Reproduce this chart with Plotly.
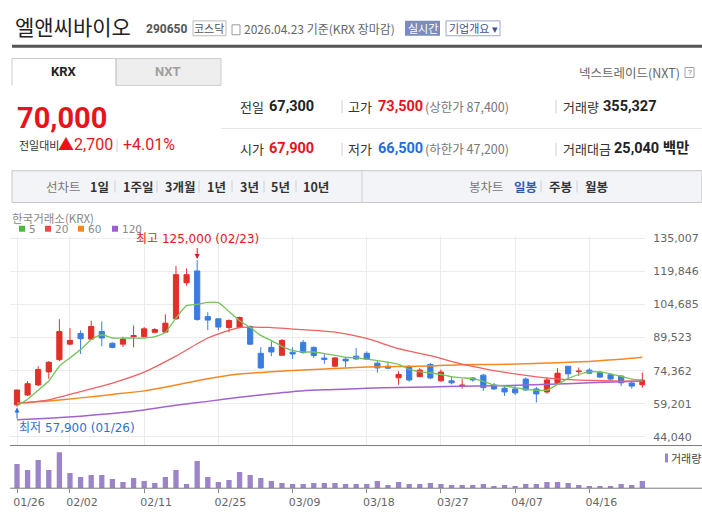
import plotly.graph_objects as go

W, H = 702, 515

# ---- data --------------------------------------------------------------
dates = [
    "2026-01-26", "2026-01-27", "2026-01-28", "2026-01-29", "2026-01-30",
    "2026-02-02", "2026-02-03", "2026-02-04", "2026-02-05", "2026-02-06",
    "2026-02-09", "2026-02-10", "2026-02-11", "2026-02-12", "2026-02-13",
    "2026-02-19", "2026-02-20", "2026-02-23", "2026-02-24", "2026-02-25",
    "2026-02-26", "2026-02-27", "2026-03-03", "2026-03-04", "2026-03-05",
    "2026-03-06", "2026-03-09", "2026-03-10", "2026-03-11", "2026-03-12",
    "2026-03-13", "2026-03-16", "2026-03-17", "2026-03-18", "2026-03-19",
    "2026-03-20", "2026-03-23", "2026-03-24", "2026-03-25", "2026-03-26",
    "2026-03-27", "2026-03-30", "2026-03-31", "2026-04-01", "2026-04-02",
    "2026-04-03", "2026-04-06", "2026-04-07", "2026-04-08", "2026-04-09",
    "2026-04-10", "2026-04-13", "2026-04-14", "2026-04-15", "2026-04-16",
    "2026-04-17", "2026-04-20", "2026-04-21", "2026-04-22", "2026-04-23",
]
opens = [58700, 63200, 67800, 73800, 79400, 86500, 91400, 88800, 92300, 86900,
         86500, 89900, 89900, 91900, 92000, 98100, 114600, 120000, 99100, 98100,
         94100, 94100, 94600, 82300, 85000, 81400, 82800, 87300, 85000, 80100,
         76400, 79600, 81000, 82300, 77800, 76400, 71100, 76300, 71600, 77200,
         69700, 69700, 67400, 71000, 72300, 67800, 66300, 66000, 70500, 66000,
         64600, 68600, 76400, 73900, 74600, 73700, 72500, 71900, 68700, 67900]
highs = [65600, 69600, 76400, 78700, 97900, 93800, 92800, 97300, 96900, 87300,
         89900, 95000, 94300, 93800, 100200, 122300, 121100, 125000, 101100, 98100,
         97800, 99100, 95000, 85100, 87800, 88800, 85100, 88400, 85500, 81900,
         80500, 80200, 84700, 83200, 78700, 77800, 74100, 76900, 75500, 77900,
         74900, 71600, 70500, 71400, 72900, 68800, 67300, 67300, 71300, 66900,
         71300, 75500, 76400, 75800, 75500, 74100, 73200, 72300, 69600, 73500]
lows = [57900, 62800, 67300, 70600, 78700, 86000, 82000, 88400, 85500, 84600,
        85200, 85000, 89600, 91500, 91500, 97600, 113200, 97200, 92900, 92800,
        91900, 93800, 86100, 75200, 81000, 81400, 79700, 82200, 80200, 77500,
        76000, 76000, 79300, 79300, 73400, 75100, 67900, 69300, 71600, 70500,
        69300, 68100, 66100, 69300, 65100, 65500, 62800, 63200, 65100, 59800,
        63800, 68200, 71100, 71900, 72800, 71000, 69900, 67300, 66100, 66500]
closes = [65500, 68400, 74900, 78200, 92300, 88200, 89000, 94600, 89300, 85000,
          88800, 90400, 93500, 93200, 96100, 118300, 118300, 97800, 97500, 94300,
          97300, 98700, 86500, 75600, 82900, 88200, 82000, 82600, 81300, 79500,
          80200, 78800, 79700, 79600, 75600, 75500, 72600, 70100, 74600, 71000,
          73700, 68800, 67700, 70100, 66600, 66000, 64600, 64200, 65500, 63700,
          70100, 73200, 72900, 74100, 73200, 71400, 70500, 68800, 67300, 70000]
volumes = [1179000, 888000, 1373000, 888000, 1760000, 743000, 549000, 646000, 646000, 452000,
           307000, 501000, 355000, 258000, 549000, 888000, 210000, 1324000, 549000, 307000,
           404000, 791000, 646000, 501000, 355000, 258000, 210000, 210000, 258000, 258000,
           258000, 210000, 210000, 210000, 355000, 162000, 307000, 210000, 210000, 258000,
           210000, 162000, 162000, 162000, 210000, 113000, 162000, 113000, 210000, 210000,
           307000, 307000, 258000, 162000, 113000, 113000, 113000, 210000, 162000, 355327]

ma5 = [58300, 61300, 65400, 69600, 76400, 80200, 84000, 88500, 90800, 89300,
       89300, 89300, 89300, 89900, 91900, 98400, 104100, 104700, 105600, 105500,
       101400, 97200, 94100, 90500, 88100, 85500, 83600, 82900, 82900, 82200,
       81400, 80500, 80200, 79600, 79000, 78200, 77200, 74900, 73800, 73400,
       72600, 71600, 71100, 70700, 69500, 67800, 67300, 66600, 65800, 65400,
       65400, 68100, 70800, 72600, 73800, 73700, 72900, 71700, 70500, 70100]
# longer averages, read every third session
ma_idx = [0, 3, 6, 9, 12, 15, 18, 21, 24, 27, 30, 33, 36, 39, 42, 45, 48, 51, 54, 57, 59]
ma20 = [59400, 61000, 64800, 68700, 73700, 81000, 89300, 94100, 94100, 93100, 92000,
        89100, 84400, 81200, 77300, 74400, 72200, 70600, 69900, 69600, 69600]
ma60 = [59500, 60500, 61900, 63500, 65100, 67800, 70700, 72800, 73900, 74700, 75400,
        76000, 76300, 76500, 77100, 77200, 77500, 78000, 78600, 79600, 80500]
ma120 = [51900, 52600, 53500, 54800, 56400, 58500, 60300, 62200, 63800, 65200, 65700,
         66300, 66700, 66900, 67200, 67400, 67800, 68200, 68800, 69300, 69600]

price_ticks = [44040, 59201, 74362, 89523, 104685, 119846, 135007]
date_ticks = ["2026-01-26", "2026-02-02", "2026-02-11", "2026-02-25", "2026-03-09",
              "2026-03-18", "2026-03-27", "2026-04-07", "2026-04-16"]

# quote panel
name = "엘앤씨바이오"
code = "290650"
market = "코스닥"
as_of = "2026.04.23 기준(KRX 장마감)"
last_price = 70000
change = 2700
change_pct = 4.01
prev_close = 67300
open_price = 67900
day_high = 73500
day_low = 66500
upper_limit = 87400
lower_limit = 47200
volume_today = 355327
turnover = 25040

UP = '#e0302a'
DOWN = '#3a7de0'
KR = 'Noto Sans CJK KR'
NUM = 'Roboto, Noto Sans CJK KR'
AX = 'DejaVu Sans, Noto Sans CJK KR'


def px(x):
    return x / W


def py(y):
    return 1 - y / H


fig = go.Figure()

fig.add_trace(go.Candlestick(
    x=dates, open=opens, high=highs, low=lows, close=closes,
    increasing=dict(line=dict(color=UP, width=1), fillcolor=UP),
    decreasing=dict(line=dict(color=DOWN, width=1), fillcolor=DOWN),
    whiskerwidth=0, xaxis='x', yaxis='y', hoverinfo='skip'
))

ma_x = [dates[i] for i in ma_idx]
for vals, xs, color, width in [(ma120, ma_x, '#a263cf', 1.5), (ma60, ma_x, '#f5891f', 1.5),
                               (ma20, ma_x, '#f06060', 1.3), (ma5, dates, '#74c45a', 1.3)]:
    fig.add_trace(go.Scatter(
        x=xs, y=vals, mode='lines', line=dict(color=color, width=width, shape='spline', smoothing=0.6),
        xaxis='x', yaxis='y', hoverinfo='skip'
    ))

fig.add_trace(go.Bar(
    x=dates, y=volumes, marker=dict(color='#9b84c7', line=dict(width=0)), width=0.5,
    xaxis='x2', yaxis='y2', hoverinfo='skip'
))

x_range = [-0.66, 59.25]
fig.update_layout(
    width=W, height=H, autosize=False,
    margin=dict(l=0, r=0, t=0, b=0),
    paper_bgcolor='white', plot_bgcolor='white',
    showlegend=False,
    xaxis=dict(
        domain=[px(10), px(645)], type='category', categoryorder='array', categoryarray=dates,
        range=x_range, tickvals=date_ticks, showticklabels=False, ticks='',
        showgrid=True, gridcolor='#ececec', gridwidth=1, zeroline=False, showline=False,
        rangeslider=dict(visible=False), anchor='y', fixedrange=True
    ),
    yaxis=dict(
        domain=[py(445), py(234)], range=[40079, 135915], side='right', anchor='x',
        tickvals=price_ticks, tickformat=',.0f', tickfont=dict(family=AX, size=11, color='#666'),
        ticks='outside', ticklen=5, tickcolor='rgba(0,0,0,0)',
        showgrid=True, gridcolor='#ececec', zeroline=False, showline=False, fixedrange=True
    ),
    xaxis2=dict(
        domain=[px(10), px(645)], type='category', categoryorder='array', categoryarray=dates,
        range=x_range, tickvals=date_ticks, ticktext=[d[5:7] + '/' + d[8:] for d in date_ticks],
        ticks='outside', ticklen=4, tickcolor='#888', ticklabelshift=12,
        tickfont=dict(family=AX, size=11, color='#666'),
        showgrid=False, zeroline=False, showline=False, anchor='y2', fixedrange=True
    ),
    yaxis2=dict(domain=[py(488), py(450)], range=[0, 1841000], visible=False, anchor='x2', fixedrange=True),
)

shapes = []


def rect(x0, y0, x1, y1, fill=None, line=None, lw=1):
    shapes.append(dict(type='rect', xref='paper', yref='paper', x0=px(x0), x1=px(x1), y0=py(y1), y1=py(y0),
                       fillcolor=fill or 'rgba(0,0,0,0)', line=dict(color=line or 'rgba(0,0,0,0)', width=lw),
                       layer='below'))


def hline(x0, x1, y, color, lw=1):
    shapes.append(dict(type='line', xref='paper', yref='paper', x0=px(x0), x1=px(x1), y0=py(y), y1=py(y),
                       line=dict(color=color, width=lw)))


def vline(x, y0, y1, color, lw=1):
    shapes.append(dict(type='line', xref='paper', yref='paper', x0=px(x), x1=px(x), y0=py(y0), y1=py(y1),
                       line=dict(color=color, width=lw)))


# header boxes
rect(193, 17, 226, 32, line='#bbbbbb')
rect(232, 21, 240, 31, line='#9a9a9a')
rect(405, 17, 440, 32, fill='#7b8cba')
rect(446, 17, 500, 32, line='#9ea7c6')
hline(12, 702, 42.5, '#555555', 3)
# exchange tabs
rect(116, 55, 221, 82, fill='#eeeeee', line='#cccccc')
shapes.append(dict(type='path', xref='paper', yref='paper',
                   path=f'M {px(12)},{py(82)} L {px(12)},{py(55)} L {px(116)},{py(55)} L {px(116)},{py(82)}',
                   line=dict(color='#cccccc', width=1)))
rect(685, 64, 694, 74, line='#a0a0a0')
# quote grid
hline(221, 702, 125.5, '#e6e6e6')
for xs in (342, 556):
    vline(xs, 97, 110, '#d0d0d0')
    vline(xs, 140, 153, '#d0d0d0')
vline(117, 136, 149, '#d0d0d0')
# period toolbar
rect(12, 168, 702, 200, fill='#f3f4f7', line='#c6c6c6')
vline(362, 168, 200, '#d0d0d0')
for xs in (115, 157, 199, 232, 264, 296, 541, 577):
    vline(xs, 178, 190, '#d0d0d0')
# chart legend squares
for x0, c in [(19, '#4cb840'), (45, '#f04848'), (78, '#f5891f'), (112, '#9d5fcd')]:
    rect(x0, 223.5, x0 + 6, 229.5, fill=c)
rect(665, 453, 668, 462, fill='#9b84c7')
# pane borders
hline(10, 702, 445, '#7a7a7a')
hline(10, 702, 488, '#7a7a7a')

ann = []


def txt(text, x, y, size=12, color='#333', bold=False, family=KR, xanchor='left'):
    ann.append(dict(text=f'<b>{text}</b>' if bold else text, x=px(x), y=py(y), xref='paper', yref='paper',
                    xanchor=xanchor, yanchor='middle', showarrow=False, borderpad=0,
                    font=dict(family=family, size=size, color=color)))


txt(name, 14, 22, 21, '#222')
txt(code, 145, 25, 12, '#555', True, NUM)
txt(market, 209.5, 24.5, 11, '#555', xanchor='center')
txt(as_of, 243, 25, 12, '#666')
txt('실시간', 422.5, 24.5, 11, 'white', xanchor='center')
txt('기업개요 ▾', 473, 24.5, 11, '#3d4f8f', xanchor='center')
txt('KRX', 64, 68.5, 13, '#222', True, NUM, 'center')
txt('NXT', 168, 68.5, 13, '#a0a0a0', True, NUM, 'center')
txt('넥스트레이드(NXT)', 681, 69, 12.5, '#666', xanchor='right')
txt('?', 689.5, 69, 8, '#777', family=NUM, xanchor='center')

txt(f'{last_price:,}', 16, 115, 29, '#e8141c', True, NUM)
txt('전일대비', 18, 142.5, 11, '#333')
txt(f'▲{change:,}', 57, 142, 16, '#e8141c', False, NUM)
txt(f'+{change_pct:.2f}%', 122, 142, 16, '#e8141c', False, NUM)

rows = [
    (103.5, [('전일', f'{prev_close:,}', '#222'), ('고가', f'{day_high:,}', '#e8141c'), ('거래량', f'{volume_today:,}', '#222')]),
    (146, [('시가', f'{open_price:,}', '#e8141c'), ('저가', f'{day_low:,}', '#1e6fe0'), ('거래대금', f'{turnover:,} 백만', '#222')]),
]
for y, cells in rows:
    for (lab, val, col), xl, xv in zip(cells, (239, 347, 562), (268, 377, None)):
        txt(lab, xl, y, 13, '#333')
        txt(val, xv if xv else (602 if lab == '거래량' else 613), y, 14.5, col, True, NUM)
txt(f'(상한가 {upper_limit:,})', 424, 103.5, 12.5, '#777')
txt(f'(하한가 {lower_limit:,})', 424, 146, 12.5, '#777')

txt('선차트', 45, 184, 12.5, '#777')
for lab, x in [('1일', 89), ('1주일', 122), ('3개월', 164), ('1년', 206), ('3년', 239), ('5년', 270), ('10년', 302)]:
    txt(lab, x, 184, 12.5, '#333', True)
txt('봉차트', 468, 184, 12.5, '#777')
for lab, x, c in [('일봉', 513, '#2f5ea8'), ('주봉', 548, '#333'), ('월봉', 584, '#333')]:
    txt(lab, x, 184, 12.5, c, True)

txt('한국거래소(KRX)', 11, 215.5, 11.5, '#888')
for lab, x in [('5', 28), ('20', 54), ('60', 87), ('120', 121)]:
    txt(lab, x, 227, 10.5, '#888', family=AX)
txt('거래량', 670, 457.5, 11, '#444')

# high / low markers
hi = highs.index(max(highs))
lo = lows.index(min(lows))
ann.append(dict(x=dates[hi], y=highs[hi], xref='x', yref='y', showarrow=True, ax=0, ay=-12,
                arrowhead=2, arrowsize=1, arrowwidth=1, arrowcolor='#e8141c', standoff=1,
                text=f'최고 {highs[hi]:,} ({dates[hi][5:7]}/{dates[hi][8:]})', yanchor='bottom',
                font=dict(family=AX, size=12, color='#e8141c')))
ann.append(dict(x=dates[lo], y=lows[lo], xref='x', yref='y', showarrow=True, ax=0, ay=12,
                arrowhead=2, arrowsize=1, arrowwidth=1, arrowcolor='#2f6fd6', standoff=1,
                text=f'최저 {lows[lo]:,} ({dates[lo][5:7]}/{dates[lo][8:]})', yanchor='top', xanchor='left',
                font=dict(family=AX, size=12, color='#2f6fd6')))

fig.update_layout(shapes=shapes, annotations=ann)

fig.write_html("out.html", config={'displayModeBar': False},
               post_script="document.body.style.margin='0';document.body.style.overflow='hidden';")
